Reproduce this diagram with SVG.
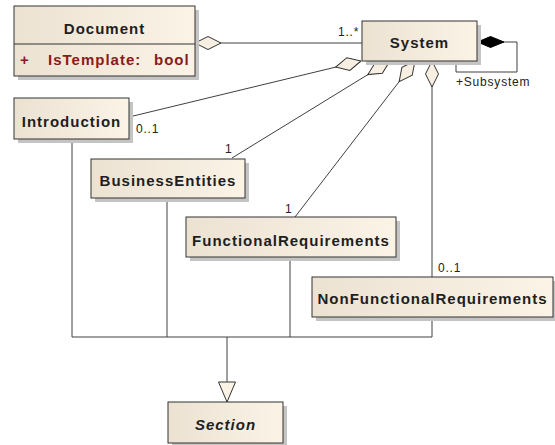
<svg xmlns="http://www.w3.org/2000/svg" width="555" height="445" viewBox="0 0 555 445">
<style>
.box{fill:url(#g);stroke:#333;stroke-width:1}
.sh{fill:#c4c4c4}
.t{font-family:"Liberation Sans",Arial,sans-serif;font-weight:bold;font-size:15px;fill:#1e1e1e;text-anchor:middle;letter-spacing:1px}
.lbl{font-family:"Liberation Sans",Arial,sans-serif;font-size:12px;fill:#222;letter-spacing:0.8px}
.ln{fill:none;stroke:#404040;stroke-width:1}
</style>
<defs>
<linearGradient id="g" x1="0" y1="0" x2="1" y2="0">
<stop offset="0" stop-color="#ebe2d2"/>
<stop offset="1" stop-color="#fbf3e6"/>
</linearGradient>
<marker id="hd" markerUnits="userSpaceOnUse" markerWidth="30" markerHeight="16" viewBox="0 -8 30 16" refX="0" refY="0" orient="auto">
<path d="M0,0 L13,-6.5 L26,0 L13,6.5 Z" fill="#f7efe2" stroke="#333" stroke-width="1"/>
</marker>
<marker id="fd" markerUnits="userSpaceOnUse" markerWidth="30" markerHeight="16" viewBox="0 -8 30 16" refX="0" refY="0" orient="auto">
<path d="M0.5,0 L13.5,-5.5 L27,0 L13.5,5.5 Z" fill="#000" stroke="#000" stroke-width="1"/>
</marker>
<marker id="tri" markerUnits="userSpaceOnUse" markerWidth="24" markerHeight="24" viewBox="-2 -12 24 24" refX="20" refY="0" orient="auto">
<path d="M0,-8.5 L20,0 L0,8.5 Z" fill="#fbf3e6" stroke="#333" stroke-width="1"/>
</marker>
</defs>

<g id="connectors">
<path class="ln" d="M195,43 H362" marker-start="url(#hd)"/>
<path class="ln" d="M361,61 L129,117" marker-start="url(#hd)"/>
<path class="ln" d="M390,61 L232,158" marker-start="url(#hd)"/>
<path class="ln" d="M415,61 L295,217" marker-start="url(#hd)"/>
<path class="ln" d="M432,61 V277" marker-start="url(#hd)"/>
<path class="ln" d="M477,42 H517 V72 H456 V61" marker-start="url(#fd)"/>
<path class="ln" d="M72,139 V337 M167,198 V337 M290,257 V337 M432,317 V337 M72,337 H432"/>
<path class="ln" d="M227,337 V402" marker-end="url(#tri)"/>
<text class="lbl" x="338" y="36">1..*</text>
<text class="lbl" x="136" y="133">0..1</text>
<text class="lbl" x="225" y="153">1</text>
<text class="lbl" x="285" y="213">1</text>
<text class="lbl" x="438" y="272">0..1</text>
<text class="lbl" x="456" y="86">+Subsystem</text>
</g>

<g id="Document">
<rect class="sh" x="18" y="10" width="181" height="70"/>
<rect class="box" x="14" y="6" width="181" height="70"/>
<line x1="14" y1="44" x2="195" y2="44" stroke="#333"/>
<text class="t" x="104.5" y="34">Document</text>
<text class="t" style="fill:#8b1a1a;text-anchor:start" y="65"><tspan x="20">+</tspan><tspan x="48">IsTemplate:</tspan><tspan x="154">bool</tspan></text>
</g>

<g id="System">
<rect class="sh" x="366" y="25" width="115" height="40"/>
<rect class="box" x="362" y="21" width="115" height="40"/>
<text class="t" x="419.5" y="48">System</text>
</g>

<g id="Introduction">
<rect class="sh" x="18" y="102" width="115" height="41"/>
<rect class="box" x="14" y="98" width="115" height="41"/>
<text class="t" x="71.5" y="127">Introduction</text>
</g>

<g id="BusinessEntities">
<rect class="sh" x="95" y="163" width="154" height="39"/>
<rect class="box" x="91" y="159" width="154" height="39"/>
<text class="t" x="168" y="186">BusinessEntities</text>
</g>

<g id="FunctionalRequirements">
<rect class="sh" x="190" y="221" width="210" height="40"/>
<rect class="box" x="186" y="217" width="210" height="40"/>
<text class="t" x="291" y="246">FunctionalRequirements</text>
</g>

<g id="NonFunctionalRequirements">
<rect class="sh" x="316" y="281" width="241" height="40"/>
<rect class="box" x="312" y="277" width="241" height="40"/>
<text class="t" x="432.5" y="304">NonFunctionalRequirements</text>
</g>

<g id="Section">
<rect class="sh" x="172" y="406" width="115" height="41"/>
<rect class="box" x="168" y="402" width="115" height="41"/>
<text class="t" style="font-style:italic" x="225.5" y="430">Section</text>
</g>
</svg>
